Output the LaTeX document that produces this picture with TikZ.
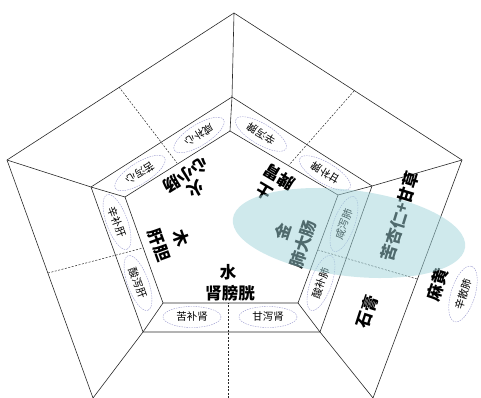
\documentclass[tikz,border=0pt]{standalone}
\usepackage{fontspec}
\newfontfamily\cjk{Noto Sans CJK SC}
\usetikzlibrary{shapes.geometric}
\definecolor{lav}{RGB}{150,150,205}
\definecolor{tealhl}{RGB}{160,212,218}
\definecolor{edge}{RGB}{40,40,40}
\begin{document}
\begin{tikzpicture}[x=1pt,y=-1pt,
  ln/.style={draw=edge, line width=0.6pt},
  dl/.style={draw=edge, line width=0.5pt, dash pattern=on 2pt off 1.5pt},
  big/.style={font=\cjk\bfseries\fontsize{16.5}{17}\selectfont, inner sep=0pt, align=center},
  pill/.style={ellipse, draw=lav, line width=0.4pt, dash pattern=on 1.5pt off 1pt, minimum width=58pt, minimum height=21pt, inner sep=0pt, font=\cjk\fontsize{10.5}{11}\selectfont}
]
\useasboundingbox (0,0) rectangle (481,398);
% outer
\coordinate (T) at (234,13);
\coordinate (L) at (7,160);
\coordinate (R) at (462,160);
\coordinate (BL) at (93,398);
\coordinate (BR) at (373,398);
% middle
\coordinate (mT) at (232,97);
\coordinate (mL) at (91,187);
\coordinate (mR) at (372,186);
\coordinate (mBL) at (143,332);
\coordinate (mBR) at (320,332);
% inner
\coordinate (iT) at (230,131);
\coordinate (iL) at (125,197);
\coordinate (iR) at (338,195);
\coordinate (iBL) at (163,303);
\coordinate (iBR) at (298,303);
% dashed ends
\coordinate (dTLo) at (119,87);
\coordinate (dTLi) at (177,163);
\coordinate (dTRo) at (354,91);
\coordinate (dTRi) at (289,165);
\coordinate (dLo) at (48,273);
\coordinate (dLi) at (143,248);
\coordinate (dRo) at (417,279);
\coordinate (dRi) at (318,250);
\coordinate (dBo) at (228,398);
\coordinate (dBi) at (228,303);

\draw[ln] (BL) -- (L) -- (T) -- (R) -- (BR);
\draw[ln] (mT) -- (mL) -- (mBL) -- (mBR) -- (mR) -- cycle;
\draw[ln] (iT) -- (iL) -- (iBL) -- (iBR) -- (iR) -- cycle;
\draw[ln] (T) -- (mT) -- (iT);
\draw[ln] (L) -- (mL) -- (iL);
\draw[ln] (R) -- (mR) -- (iR);
\draw[ln] (BL) -- (mBL) -- (iBL);
\draw[ln] (BR) -- (mBR) -- (iBR);

\draw[dl] (dTLo) -- (dTLi);
\draw[dl] (dTRo) -- (dTRi);
\draw[dl] (dLo) -- (dLi);
\draw[dl] (dRo) -- (dRi);
\draw[dl] (dBo) -- (dBi);

% element labels
\node[big, rotate=212] (huo) at (196,189) {火};
\node[big, rotate=212] (xin) at (186,175) {心小肠};
\node[big, rotate=149.4] (tu) at (264,192) {土};
\node[big, rotate=149.4] (pi) at (279,177) {脾胃};
\node[big, rotate=-70] (mu) at (181,238) {木};
\node[big, rotate=-70] (gan) at (159,245) {肝胆};
\node[big] (shui) at (228,272) {水};
\node[big] (shen) at (230,293) {肾膀胱};
\node[big, rotate=72] (jin) at (283,232) {金};
\node[big, rotate=72] (fei) at (303,244) {肺大肠};
\node[big, rotate=73] (xr) at (400,216) {苦杏仁+甘草};
\node[big, rotate=72] (sg) at (367,312) {石膏};
\node[big, rotate=72] (mh) at (438,285) {麻黄};

% pills
\node[pill, rotate=212] (p1) at (140,173) {苦泻心};
\node[pill, rotate=212] (p2) at (199,135) {咸补心};
\node[pill, rotate=149.4] (p3) at (261,134) {辛泻脾};
\node[pill, rotate=149.4] (p4) at (325,173) {甘补脾};
\node[pill, rotate=-70] (p5) at (117,222) {辛补肝};
\node[pill, rotate=-70] (p6) at (138,283) {酸泻肝};
\node[pill] (p7) at (192,317) {苦补肾};
\node[pill] (p8) at (268,317) {甘泻肾};
\node[pill, rotate=70] (p9) at (344,224) {咸泻肺};
\node[pill, rotate=70] (p10) at (321,283) {酸补肺};
\node[pill, rotate=73, minimum height=24pt] (p11) at (463,294) {辛散肺};

% highlight
\node[ellipse, fill=tealhl, opacity=0.5, minimum width=234pt, minimum height=86pt, rotate=-7, inner sep=0pt] (hl) at (349,233) {};
\end{tikzpicture}
\end{document}
